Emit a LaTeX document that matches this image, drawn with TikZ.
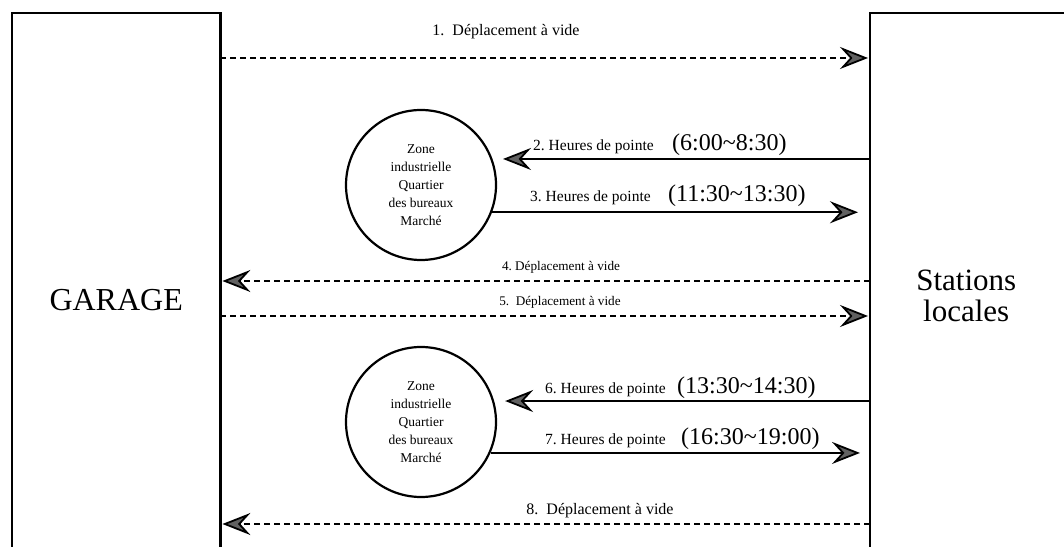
\documentclass[tikz,border=0pt]{standalone}
\usepackage{fontspec}
\setmainfont{Liberation Serif}
\usetikzlibrary{arrows.meta, positioning}

\begin{document}
\begin{tikzpicture}[x=1pt, y=1pt,
    frame/.style={line width=2.6pt},
    zone/.style={circle, draw, line width=2.2pt, minimum size=150pt, align=center,
      font=\fontsize{13.5}{18}\selectfont},
    barb/.style={-{Stealth[length=28pt, width=22pt, inset=10pt, fill=black!62]}},
    empty trip/.style={barb, line width=1.8pt, dash pattern=on 6pt off 4pt, shorten >=2pt},
    rush trip/.style={barb, line width=1.8pt},
    empty label/.style={inner sep=0pt, font=\fontsize{16}{18}\selectfont},
    rush label/.style={anchor=base west, inner sep=0pt, font=\fontsize{15.5}{18}\selectfont},
    hours/.style={anchor=base west, inner sep=0pt, font=\fontsize{24}{28}\selectfont}]
    \useasboundingbox (0,0) rectangle (1064,546);

    \node[minimum width=208pt, minimum height=574pt, anchor=north west,
      font=\fontsize{32}{34}\selectfont] (garage) at (12,533) {GARAGE};
    \node[minimum width=192pt, minimum height=566pt, anchor=north west, align=center,
      font=\fontsize{31}{31}\selectfont] (stations) at (870,533) {Stations\\locales};
    \draw[frame] (garage.south west) -- (garage.north west) -- (garage.north east) -- (garage.south east);
    \draw[frame] (stations.south west) -- (stations.north west) -- ([xshift=10pt]stations.north east);

    \node[zone] (z1) at (421,361) {Zone\\industrielle\\Quartier\\des bureaux\\Marché};
    \node[zone] (z2) at (421,124) {Zone\\industrielle\\Quartier\\des bureaux\\Marché};

    \coordinate (r1) at (0,488);
    \coordinate (r4) at (0,265);
    \coordinate (r5) at (0,230);
    \coordinate (r8) at (0,22);

    \draw
        (garage.east |- r1) edge[empty trip] (stations.west |- r1)
        (stations.west |- z1.20) edge[rush trip, shorten >=10.5pt] (z1.20)
        (z1.339) edge[rush trip, shorten >=12pt] (stations.west |- z1.339)
        (stations.west |- r4) edge[empty trip] (garage.east |- r4)
        (garage.east |- r5) edge[empty trip] (stations.west |- r5)
        (stations.west |- z2.16) edge[rush trip, shorten >=11pt] (z2.16)
        (z2.336) edge[rush trip, shorten >=10pt] (stations.west |- z2.336)
        (stations.west |- r8) edge[empty trip] (garage.east |- r8);

    \node[empty label] (l1) at (506,514) {1.\ \ Déplacement à vide};
    \node[rush label] (h2) at (533,395) {2.\ Heures de pointe};
    \node[hours] (t2) at (672,395) {(6:00\textasciitilde 8:30)};
    \node[rush label] (h3) at (530,344) {3.\ Heures de pointe};
    \node[hours] (t3) at (668,344) {(11:30\textasciitilde 13:30)};
    \node[empty label, font=\fontsize{13.2}{16}\selectfont] (l4) at (561,279) {4.\ Déplacement à vide};
    \node[empty label, font=\fontsize{13.2}{16}\selectfont] (l5) at (560,244) {5.\ \ Déplacement à vide};
    \node[rush label] (h6) at (545,153) {6.\ Heures de pointe};
    \node[hours] (t6) at (677,153) {(13:30\textasciitilde 14:30)};
    \node[rush label] (h7) at (545,102) {7.\ Heures de pointe};
    \node[hours] (t7) at (681,102) {(16:30\textasciitilde 19:00)};
    \node[empty label] (l8) at (600,35) {8.\ \ Déplacement à vide};
\end{tikzpicture}
\end{document}
